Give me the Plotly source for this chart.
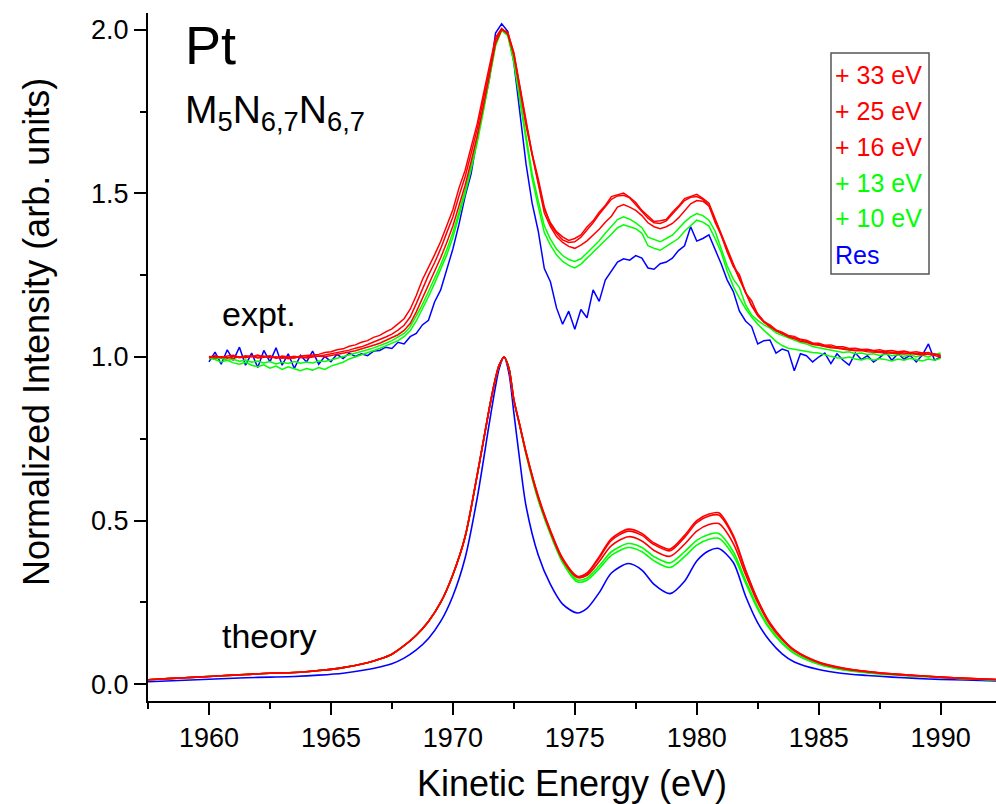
import plotly.graph_objects as go

# ---------------- data ----------------
# experimental spectra, 1960-1990 eV in 0.25 eV steps (offset by +1)
expt_E = [1960 + 0.25 * k for k in range(121)]

expt_33 = [
    1.000, 1.004, 0.998, 1.003, 1.005, 0.999, 1.004, 1.001, 1.006, 1.000, 1.004, 0.997,
    1.003, 1.001, 0.997, 1.003, 1.004, 1.007, 1.008, 1.014, 1.016, 1.022, 1.025, 1.033,
    1.037, 1.045, 1.050, 1.060, 1.066, 1.077, 1.086, 1.101, 1.117, 1.146, 1.188, 1.236,
    1.272, 1.312, 1.353, 1.402, 1.450, 1.516, 1.570, 1.642, 1.713, 1.802, 1.888, 1.976,
    2.004, 1.986, 1.922, 1.812, 1.708, 1.617, 1.538, 1.452, 1.410, 1.383, 1.367, 1.356,
    1.362, 1.373, 1.397, 1.416, 1.442, 1.463, 1.490, 1.495, 1.501, 1.488, 1.472, 1.448,
    1.430, 1.414, 1.416, 1.420, 1.442, 1.461, 1.484, 1.490, 1.497, 1.485, 1.470, 1.423,
    1.377, 1.326, 1.285, 1.241, 1.202, 1.158, 1.132, 1.108, 1.098, 1.083, 1.076, 1.066,
    1.063, 1.054, 1.051, 1.043, 1.042, 1.036, 1.037, 1.031, 1.031, 1.026, 1.027, 1.023,
    1.024, 1.020, 1.022, 1.018, 1.020, 1.016, 1.018, 1.014, 1.016, 1.012, 1.014, 1.008,
    1.006]

expt_25 = [
    0.998, 1.002, 1.000, 0.996, 1.003, 0.998, 1.001, 1.004, 0.999, 1.003, 0.998, 1.001,
    0.996, 1.000, 1.002, 0.998, 1.001, 1.003, 1.002, 1.006, 1.009, 1.012, 1.017, 1.021,
    1.027, 1.031, 1.038, 1.045, 1.052, 1.061, 1.070, 1.082, 1.097, 1.122, 1.163, 1.209,
    1.250, 1.288, 1.331, 1.380, 1.428, 1.492, 1.550, 1.622, 1.697, 1.786, 1.876, 1.968,
    2.002, 1.990, 1.928, 1.820, 1.716, 1.622, 1.545, 1.458, 1.404, 1.378, 1.358, 1.350,
    1.352, 1.366, 1.388, 1.410, 1.436, 1.458, 1.482, 1.492, 1.494, 1.486, 1.466, 1.444,
    1.424, 1.410, 1.408, 1.416, 1.436, 1.456, 1.478, 1.488, 1.490, 1.482, 1.462, 1.420,
    1.372, 1.324, 1.280, 1.238, 1.196, 1.156, 1.126, 1.106, 1.092, 1.081, 1.071, 1.064,
    1.058, 1.052, 1.047, 1.041, 1.038, 1.033, 1.031, 1.029, 1.026, 1.024, 1.021, 1.022,
    1.019, 1.018, 1.016, 1.017, 1.014, 1.015, 1.012, 1.013, 1.010, 1.012, 1.008, 1.010,
    1.004]

expt_16 = [
    1.002, 0.997, 1.001, 0.999, 0.996, 1.001, 0.998, 1.002, 0.997, 0.999, 1.002, 0.996,
    0.999, 0.995, 0.998, 1.001, 0.997, 1.000, 1.003, 1.001, 1.004, 1.008, 1.011, 1.015,
    1.019, 1.024, 1.029, 1.036, 1.042, 1.050, 1.058, 1.068, 1.081, 1.102, 1.138, 1.180,
    1.222, 1.260, 1.303, 1.350, 1.400, 1.462, 1.524, 1.598, 1.676, 1.766, 1.862, 1.958,
    2.000, 1.992, 1.930, 1.824, 1.718, 1.620, 1.530, 1.440, 1.398, 1.368, 1.350, 1.338,
    1.332, 1.342, 1.355, 1.372, 1.390, 1.412, 1.430, 1.458, 1.466, 1.458, 1.448, 1.432,
    1.410, 1.398, 1.392, 1.398, 1.408, 1.425, 1.448, 1.468, 1.478, 1.476, 1.462, 1.412,
    1.372, 1.320, 1.276, 1.252, 1.196, 1.172, 1.130, 1.110, 1.094, 1.080, 1.072, 1.062,
    1.056, 1.048, 1.045, 1.038, 1.036, 1.031, 1.028, 1.027, 1.023, 1.021, 1.019, 1.020,
    1.016, 1.015, 1.013, 1.014, 1.012, 1.011, 1.009, 1.011, 1.008, 1.006, 1.009, 1.004,
    1.000]

expt_13 = [
    1.000, 0.994, 0.997, 0.990, 0.993, 0.987, 0.991, 0.984, 0.988, 0.982, 0.986, 0.979,
    0.984, 0.980, 0.986, 0.981, 0.985, 0.982, 0.988, 0.986, 0.991, 0.996, 1.000, 1.006,
    1.011, 1.016, 1.022, 1.028, 1.034, 1.042, 1.050, 1.061, 1.072, 1.092, 1.124, 1.160,
    1.200, 1.240, 1.282, 1.328, 1.380, 1.443, 1.508, 1.585, 1.665, 1.758, 1.855, 1.955,
    2.000, 1.985, 1.908, 1.790, 1.670, 1.560, 1.478, 1.400, 1.360, 1.330, 1.310, 1.298,
    1.292, 1.300, 1.318, 1.335, 1.355, 1.378, 1.398, 1.420, 1.428, 1.421, 1.410, 1.395,
    1.366, 1.358, 1.352, 1.362, 1.372, 1.392, 1.412, 1.428, 1.438, 1.432, 1.418, 1.385,
    1.330, 1.278, 1.238, 1.212, 1.160, 1.128, 1.112, 1.098, 1.088, 1.074, 1.066, 1.058,
    1.052, 1.044, 1.040, 1.032, 1.028, 1.024, 1.021, 1.018, 1.014, 1.016, 1.010, 1.012,
    1.008, 1.010, 1.005, 1.009, 1.004, 1.007, 1.002, 1.006, 1.001, 1.005, 1.000, 1.008,
    1.012]

expt_10 = [
    0.996, 0.992, 0.985, 0.990, 0.982, 0.978, 0.984, 0.975, 0.970, 0.976, 0.966, 0.972,
    0.962, 0.970, 0.964, 0.958, 0.965, 0.960, 0.968, 0.962, 0.972, 0.978, 0.984, 0.994,
    1.000, 1.006, 1.012, 1.020, 1.026, 1.034, 1.041, 1.050, 1.062, 1.080, 1.110, 1.145,
    1.184, 1.225, 1.266, 1.312, 1.365, 1.430, 1.498, 1.574, 1.655, 1.750, 1.850, 1.950,
    1.998, 1.982, 1.900, 1.780, 1.655, 1.546, 1.460, 1.380, 1.342, 1.312, 1.292, 1.280,
    1.272, 1.284, 1.302, 1.320, 1.337, 1.356, 1.375, 1.395, 1.404, 1.398, 1.392, 1.378,
    1.340, 1.332, 1.326, 1.338, 1.350, 1.362, 1.384, 1.402, 1.418, 1.412, 1.400, 1.362,
    1.320, 1.262, 1.215, 1.180, 1.148, 1.122, 1.100, 1.082, 1.066, 1.048, 1.035, 1.027,
    1.024, 1.020, 1.016, 1.014, 1.012, 1.006, 1.002, 0.998, 0.996, 1.000, 0.994, 0.991,
    0.996, 0.990, 0.995, 0.992, 0.988, 0.994, 0.990, 0.996, 0.992, 0.988, 0.994, 0.990,
    0.996]

expt_res = [
    0.985, 1.015, 0.978, 1.022, 0.990, 1.030, 0.975, 1.012, 0.968, 1.020, 0.985, 1.028,
    0.975, 1.010, 0.965, 1.005, 0.985, 1.018, 0.978, 1.002, 0.986, 1.008, 0.995, 1.012,
    1.002, 1.010, 1.004, 1.018, 1.020, 1.030, 1.026, 1.045, 1.040, 1.062, 1.072, 1.098,
    1.112, 1.168, 1.205, 1.265, 1.330, 1.405, 1.490, 1.560, 1.670, 1.760, 1.850, 1.990,
    2.018, 1.995, 1.900, 1.745, 1.590, 1.470, 1.385, 1.270, 1.230, 1.150, 1.100, 1.140,
    1.085, 1.145, 1.120, 1.205, 1.170, 1.235, 1.262, 1.290, 1.300, 1.296, 1.310, 1.302,
    1.272, 1.268, 1.285, 1.290, 1.302, 1.325, 1.340, 1.398, 1.354, 1.362, 1.373, 1.330,
    1.285, 1.235, 1.200, 1.140, 1.110, 1.093, 1.040, 1.050, 1.052, 1.012, 1.024, 1.018,
    0.958, 1.010, 1.004, 0.985, 1.000, 1.012, 0.980, 1.010, 0.990, 0.975, 1.012, 0.992,
    1.004, 0.985, 0.998, 1.015, 0.990, 1.010, 0.994, 1.005, 0.985, 1.006, 1.040, 0.990,
    1.000]

# theoretical spectra
theory_E = [1957.5, 1958.5, 1959.5, 1960.5, 1961.5, 1962.5, 1963.5, 1964.5, 1965.5, 1966.5,
            1967.0, 1967.5, 1968.0, 1968.5, 1969.0, 1969.5, 1970.0, 1970.5, 1971.0, 1971.5,
            1971.75, 1971.9, 1972.1, 1972.3, 1972.5, 1972.75, 1973.0, 1973.5, 1974.0, 1974.5,
            1975.1, 1975.5, 1976.0, 1976.5, 1977.2, 1977.75, 1978.25, 1978.9, 1979.5, 1980.0,
            1980.5, 1980.9, 1981.5, 1982.0, 1982.5, 1983.0, 1983.5, 1984.0, 1985.0, 1986.0,
            1987.0, 1988.0, 1989.0, 1990.0, 1991.0, 1992.5]

theory_33 = [0.014, 0.018, 0.022, 0.026, 0.030, 0.034, 0.036, 0.042, 0.051, 0.066,
             0.077, 0.092, 0.118, 0.150, 0.192, 0.250, 0.335, 0.450, 0.640, 0.845,
             0.935, 0.975, 1.000, 0.965, 0.870, 0.790, 0.710, 0.575, 0.470, 0.385,
             0.330, 0.340, 0.390, 0.445, 0.474, 0.461, 0.432, 0.413, 0.455, 0.500,
             0.520, 0.524, 0.455, 0.350, 0.258, 0.188, 0.140, 0.105, 0.068, 0.050,
             0.039, 0.032, 0.027, 0.022, 0.018, 0.014]
theory_25 = [0.014, 0.018, 0.022, 0.026, 0.030, 0.034, 0.036, 0.042, 0.051, 0.066,
             0.077, 0.092, 0.118, 0.150, 0.192, 0.250, 0.335, 0.450, 0.640, 0.845,
             0.935, 0.975, 1.000, 0.965, 0.870, 0.790, 0.709, 0.573, 0.468, 0.383,
             0.329, 0.338, 0.386, 0.440, 0.468, 0.455, 0.427, 0.408, 0.449, 0.494,
             0.514, 0.517, 0.450, 0.347, 0.256, 0.186, 0.139, 0.104, 0.067, 0.049,
             0.039, 0.032, 0.027, 0.022, 0.018, 0.014]
theory_16 = [0.014, 0.018, 0.022, 0.026, 0.030, 0.034, 0.036, 0.042, 0.051, 0.066,
             0.077, 0.092, 0.118, 0.150, 0.192, 0.250, 0.335, 0.450, 0.640, 0.845,
             0.935, 0.975, 1.000, 0.965, 0.870, 0.789, 0.707, 0.570, 0.465, 0.380,
             0.326, 0.333, 0.375, 0.424, 0.451, 0.438, 0.409, 0.391, 0.428, 0.468,
             0.488, 0.491, 0.430, 0.336, 0.250, 0.182, 0.136, 0.102, 0.066, 0.048,
             0.038, 0.031, 0.026, 0.022, 0.018, 0.014]
theory_13 = [0.014, 0.018, 0.022, 0.026, 0.030, 0.034, 0.036, 0.042, 0.051, 0.066,
             0.077, 0.092, 0.118, 0.150, 0.192, 0.250, 0.335, 0.450, 0.640, 0.845,
             0.935, 0.975, 1.000, 0.965, 0.869, 0.788, 0.705, 0.566, 0.462, 0.376,
             0.319, 0.325, 0.362, 0.405, 0.430, 0.418, 0.390, 0.371, 0.405, 0.440,
             0.458, 0.461, 0.405, 0.318, 0.236, 0.172, 0.128, 0.096, 0.062, 0.045,
             0.036, 0.030, 0.025, 0.021, 0.017, 0.013]
theory_10 = [0.014, 0.018, 0.022, 0.026, 0.030, 0.034, 0.036, 0.042, 0.051, 0.066,
             0.077, 0.092, 0.118, 0.150, 0.192, 0.250, 0.335, 0.450, 0.640, 0.845,
             0.935, 0.975, 1.000, 0.965, 0.869, 0.787, 0.703, 0.563, 0.458, 0.372,
             0.313, 0.318, 0.353, 0.394, 0.418, 0.405, 0.377, 0.357, 0.390, 0.425,
             0.443, 0.446, 0.393, 0.310, 0.230, 0.168, 0.125, 0.094, 0.061, 0.044,
             0.035, 0.029, 0.025, 0.021, 0.017, 0.013]
theory_res = [0.008, 0.011, 0.014, 0.017, 0.020, 0.022, 0.024, 0.028, 0.034, 0.045,
              0.053, 0.063, 0.080, 0.105, 0.140, 0.192, 0.270, 0.385, 0.570, 0.800,
              0.910, 0.965, 1.000, 0.950, 0.830, 0.680, 0.545, 0.395, 0.305, 0.245,
              0.218, 0.232, 0.280, 0.340, 0.369, 0.349, 0.305, 0.277, 0.315, 0.377,
              0.408, 0.415, 0.372, 0.270, 0.188, 0.132, 0.093, 0.068, 0.045, 0.033,
              0.027, 0.022, 0.018, 0.015, 0.013, 0.010]

series_labels = ["+ 33 eV", "+ 25 eV", "+ 16 eV", "+ 13 eV", "+ 10 eV", "Res"]
RED, GREEN, BLUE = "#FF0000", "#00FF00", "#0000FF"
series_colors = [RED, RED, RED, GREEN, GREEN, BLUE]

expt_all = [expt_33, expt_25, expt_16, expt_13, expt_10, expt_res]
theory_all = [theory_33, theory_25, theory_16, theory_13, theory_10, theory_res]

FONT = "Liberation Sans, Arial, Helvetica, sans-serif"

fig = go.Figure()
# draw Res first, +33 eV last (on top)
for i in reversed(range(6)):
    fig.add_trace(go.Scatter(x=theory_E, y=theory_all[i], mode="lines",
                             line=dict(color=series_colors[i], width=1.6, shape="spline", smoothing=0.8),
                             name=series_labels[i], showlegend=False, hoverinfo="skip"))
for i in reversed(range(6)):
    fig.add_trace(go.Scatter(x=expt_E, y=expt_all[i], mode="lines",
                             line=dict(color=series_colors[i], width=1.5),
                             name=series_labels[i], showlegend=False, hoverinfo="skip"))

L, R, T, B = 148, 0, 13, 103
W, H = 996, 804
pw, ph = W - L - R, H - T - B

def px(xp):
    return (xp - L) / pw

def py(yp):
    return (H - B - yp) / ph

annotations = [
    dict(text="Pt", x=px(183), y=py(45), xanchor="left", yanchor="middle",
         font=dict(size=54, color="black", family=FONT)),
    dict(text="M<sub>5</sub>N<sub>6,7</sub>N<sub>6,7</sub>", x=px(183), y=py(112),
         xanchor="left", yanchor="middle", font=dict(size=39, color="black", family=FONT)),
    dict(text="expt.", x=px(220), y=py(314), xanchor="left", yanchor="middle",
         font=dict(size=34, color="black", family=FONT)),
    dict(text="theory", x=px(220), y=py(636), xanchor="left", yanchor="middle",
         font=dict(size=34, color="black", family=FONT)),
    dict(text="Normalized Intensity (arb. units)", textangle=-90,
         x=px(36), y=py(332), xanchor="center", yanchor="middle",
         font=dict(size=36, color="black", family=FONT)),
]
legend_y = [75, 111, 147, 182.5, 218, 254.5]
for lab, col, yy in zip(series_labels, series_colors, legend_y):
    annotations.append(dict(text=lab, x=px(833), y=py(yy), xanchor="left", yanchor="middle",
                            font=dict(size=25, color=col, family=FONT)))
for a in annotations:
    a.update(xref="paper", yref="paper", showarrow=False)

fig.update_layout(
    width=W, height=H,
    margin=dict(l=L, r=R, t=T, b=B, pad=0),
    paper_bgcolor="white", plot_bgcolor="white",
    font=dict(family=FONT, color="black"),
    annotations=annotations,
    shapes=[dict(type="rect", xref="paper", yref="paper",
                 x0=px(831), x1=px(929), y0=py(274), y1=py(53),
                 line=dict(color="#555555", width=1.5), fillcolor="rgba(0,0,0,0)")],
    xaxis=dict(range=[1957.5, 1992.27], tick0=1960, dtick=5, ticks="outside",
               ticklen=12, tickwidth=2, tickcolor="black",
               showline=True, linecolor="black", linewidth=2, mirror=False,
               showgrid=False, zeroline=False,
               tickfont=dict(size=27, family=FONT, color="black"),
               minor=dict(dtick=2.5, ticks="outside", ticklen=6, tickwidth=2,
                          tickcolor="black", showgrid=False),
               title=dict(text="Kinetic Energy (eV)", standoff=20,
                          font=dict(size=36, family=FONT, color="black"))),
    yaxis=dict(range=[-0.051, 2.051], tick0=0, dtick=0.5, tickformat=".1f", ticks="outside",
               ticklen=12, tickwidth=2, tickcolor="black",
               showline=True, linecolor="black", linewidth=2, mirror=False,
               showgrid=False, zeroline=False,
               tickfont=dict(size=27, family=FONT, color="black"),
               minor=dict(dtick=0.25, ticks="outside", ticklen=6, tickwidth=2,
                          tickcolor="black", showgrid=False)),
)

fig.write_html("out.html")
